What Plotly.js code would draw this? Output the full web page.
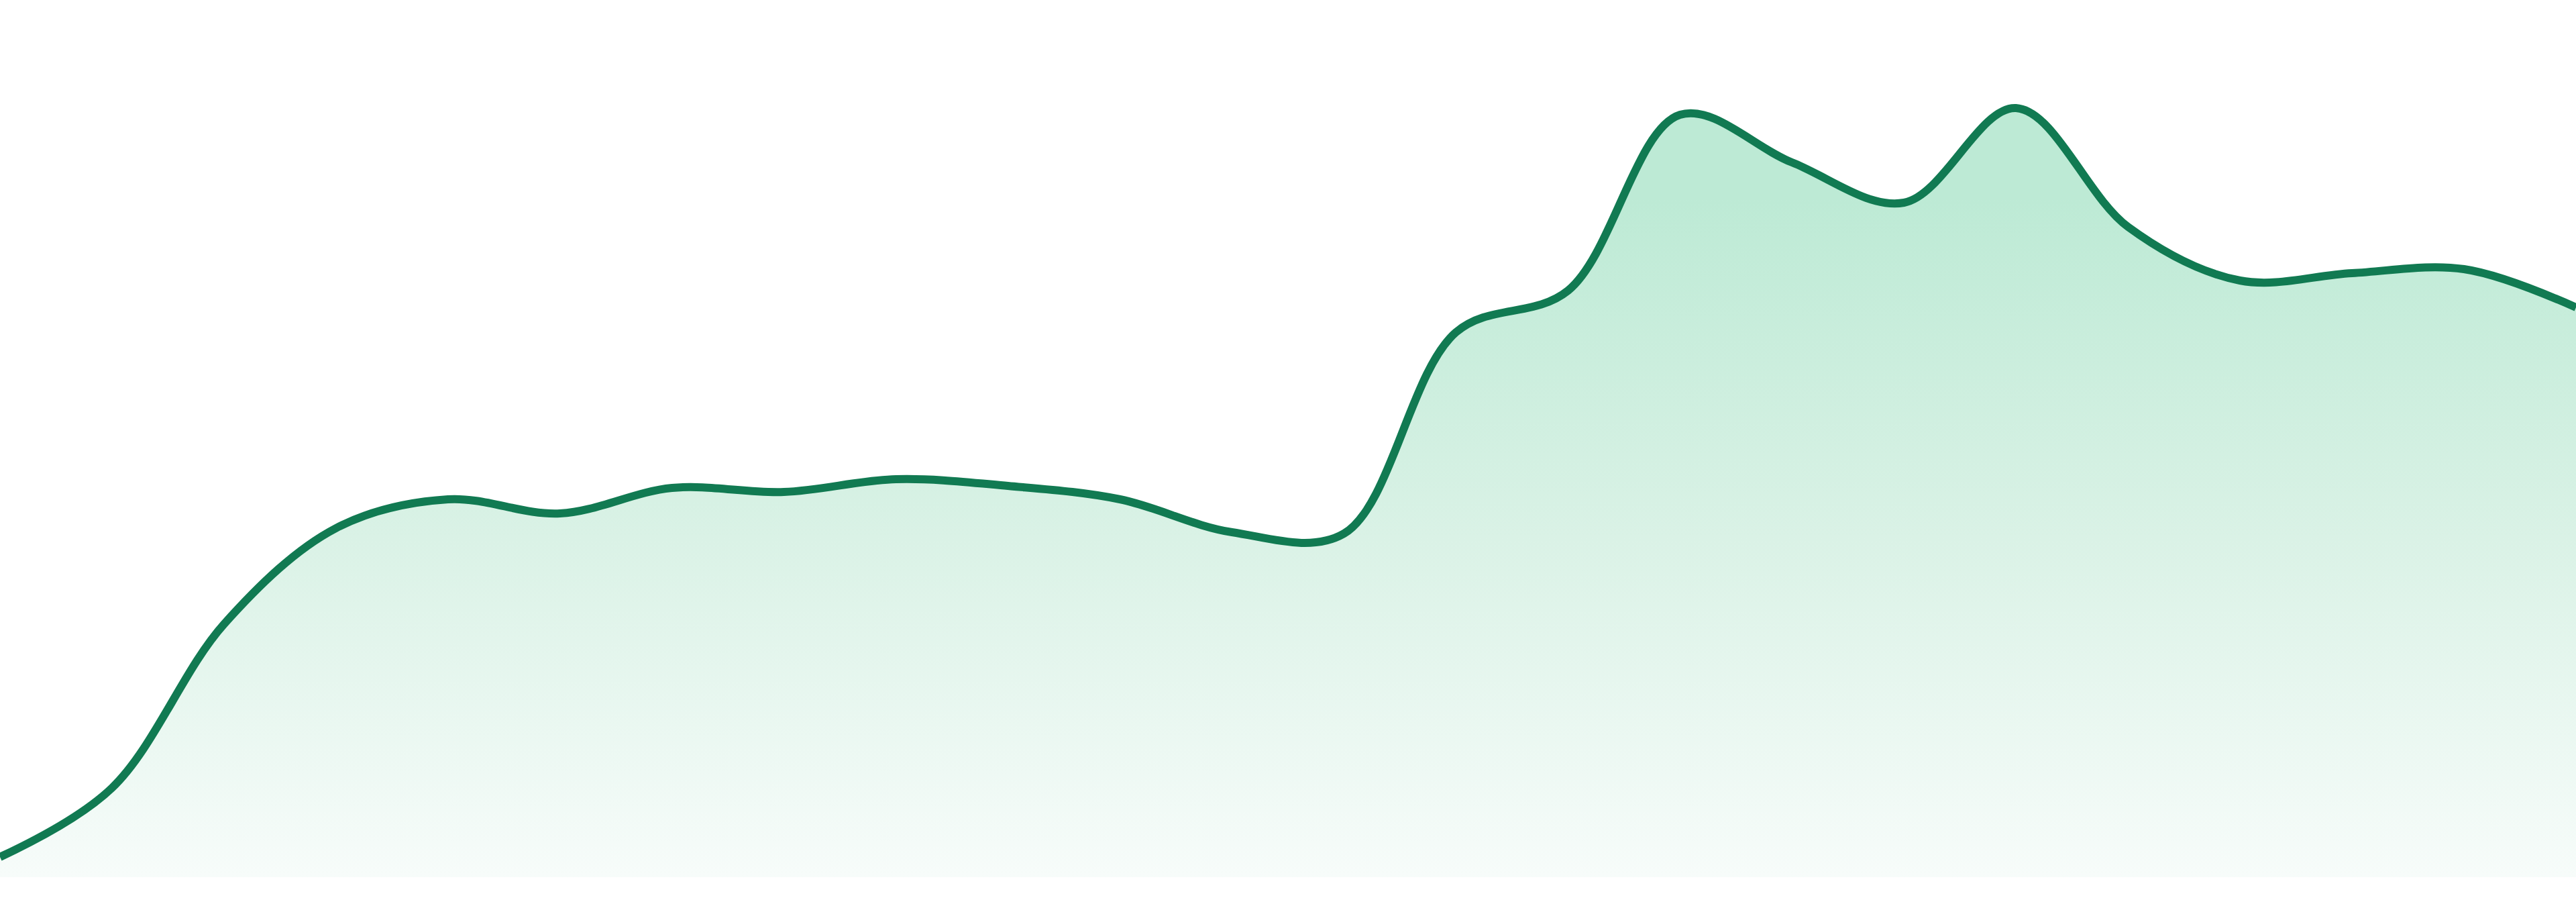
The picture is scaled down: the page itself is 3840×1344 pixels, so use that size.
<!DOCTYPE html>
<html>
<head>
<meta charset="utf-8">
<script src="https://cdn.plot.ly/plotly-3.0.1.min.js"></script>
<style>
  html, body { margin: 0; padding: 0; background: #ffffff; }
  #chart { width: 3840px; height: 1344px; }
</style>
</head>
<body>
<div id="chart"></div>
<script>
// one point per step, equally spaced along the x axis
var steps = [0, 1, 2, 3, 4, 5, 6, 7, 8, 9, 10, 11, 12, 13, 14, 15, 16, 17, 18, 19, 20, 21, 22, 23];
var values = [3.0, 13.3, 37.7, 52.0, 56.3, 54.2, 58.0, 57.4, 59.3, 58.3, 56.3, 51.4,
              51.2, 81.2, 87.4, 113.6, 106.5, 100.5, 114.6, 96.9, 88.9, 90.0, 90.6, 84.9];

function drawChart() {
	var trace = {
		x: steps,
		y: values,
		type: 'scatter',
		mode: 'lines',
		line: { color: '#117a52', width: 12, shape: 'spline', smoothing: 1 },
		fill: 'tozeroy',
		fillgradient: {
			type: 'vertical',
			start: 0,
			stop: 101,
			colorscale: [[0, '#f7fcfa'], [0.5, '#daf2e6'], [1, '#bdead5']]
		},
		hoverinfo: 'skip'
	};

	var layout = {
		width: 3840,
		height: 1344,
		margin: { l: 0, r: 0, t: 0, b: 0 },
		paper_bgcolor: '#ffffff',
		plot_bgcolor: '#ffffff',
		showlegend: false,
		xaxis: { range: [0, 23], visible: false, fixedrange: true },
		yaxis: { range: [-3.7, 130.7], visible: false, fixedrange: true }
	};

	Plotly.newPlot('chart', [trace], layout, { displayModeBar: false, staticPlot: true });
}

window.onload = drawChart;
</script>
</body>
</html>
